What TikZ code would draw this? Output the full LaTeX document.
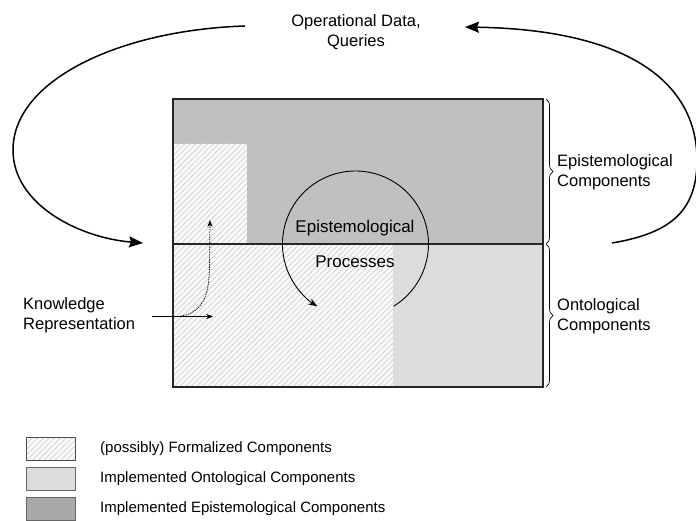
\documentclass[tikz,border=0pt]{standalone}
\usepackage{fontspec}
\setmainfont{Liberation Sans}
\usetikzlibrary{arrows.meta,decorations.pathreplacing,patterns.meta}
\definecolor{episgray}{HTML}{C0C0C0}
\definecolor{ontogray}{HTML}{DCDCDC}
\definecolor{legdark}{HTML}{A9A9A9}
\begin{document}
\begin{tikzpicture}[x=1bp,y=-1bp,
  lbl/.style={font=\fontsize{16.5bp}{20bp}\selectfont, inner sep=0pt, align=left},
  legtext/.style={font=\fontsize{15bp}{18bp}\selectfont, inner sep=0pt, anchor=west},
  hatched/.style={fill=gray!4, postaction={pattern={Lines[angle=45,distance=4bp,line width=0.9bp]}, pattern color=gray!32}},
  loop/.style={line width=1.5bp, -{Stealth[length=14bp,width=11bp,inset=2bp]}},
  procarrow/.style={line width=0.9bp, -{Stealth[length=9bp,width=6.5bp]}},
  thinarrow/.style={line width=0.7bp, -{Stealth[length=7bp,width=5bp]}},
  dotarrow/.style={line width=0.7bp, dash pattern=on 1.5bp off 1bp, -{Stealth[length=7bp,width=5bp]}},
  rbrace/.style={line width=0.7bp, decorate, decoration={brace, amplitude=7bp}},
  legbox/.style={minimum width=49bp, minimum height=23.5bp, inner sep=0pt, line width=0.9bp}
]
\useasboundingbox (0,0) rectangle (696,521);

% regions of the component box
\fill[episgray] (173,99) rectangle (543,244);
\path[hatched] (173,144) rectangle (247,244);
\path[hatched] (173,244) rectangle (393,387);
\fill[ontogray] (393,244) rectangle (543,387);

% outline and divider
\node[draw=black!85, line width=1.1bp, minimum width=370bp, minimum height=288bp, inner sep=0pt] (box) at (358,243) {};
\coordinate (midL) at (173,244);
\coordinate (midR) at (543,244);
\draw[line width=1.1bp, black!85] (midL) -- (midR);

% braces on the right
\coordinate (brTop) at (546,99);
\coordinate (brMid) at (546,244);
\coordinate (brBot) at (546,387);
\draw[rbrace] (brTop) -- (brMid);
\draw[rbrace] (brMid) -- (brBot);

% labels
\node[lbl, align=center] (ops) at (356,32) {Operational Data,\\Queries};
\node[lbl, anchor=west] (epi) at (557,172) {Epistemological\\Components};
\node[lbl, anchor=west] (onto) at (557,316) {Ontological\\Components};
\node[lbl, anchor=west] (kr) at (23,315) {Knowledge\\Representation};
\node[lbl, font=\fontsize{17bp}{20bp}\selectfont] (procA) at (355,228) {Epistemological};
\node[lbl, font=\fontsize{17bp}{20bp}\selectfont] (procB) at (355,262) {Processes};

% outer loop
\coordinate (opsL) at (245,26);
\coordinate (entryL) at (143,243);
\coordinate (exitR) at (612,243);
\coordinate (opsR) at (465,27);
\draw[loop] (opsL) .. controls (120,30) and (13,80) .. (13,150)
  .. controls (13,205) and (80,238) .. (entryL);
\draw[loop] (exitR) .. controls (672,233) and (697,210) .. (697,160)
  .. controls (697,90) and (640,30) .. (opsR);

% epistemological processes cycle
\coordinate (procStart) at (393.5,306.3);
\draw[procarrow] (procStart) arc[start angle=58.6, end angle=-238.5, radius=73];

% knowledge representation arrows
\coordinate (krStart) at (152,316.5);
\coordinate (krEnd) at (213,316.5);
\coordinate (krFork) at (178,316.5);
\coordinate (krUp) at (210,220);
\draw[thinarrow] (krStart) -- (krEnd);
\draw[dotarrow] (krFork) .. controls (203,314) and (209,295) .. (209.5,268) -- (krUp);

% legend
\node[legbox, hatched, postaction={draw=black!70, line width=0.9bp}] (leg1) at (50.5,449) {};
\node[legbox, draw=gray!80!black, fill=ontogray] (leg2) at (50.5,479) {};
\node[legbox, draw=gray!80!black, fill=legdark] (leg3) at (50.5,509) {};
\node[legtext] (legt1) at (100,449) {(possibly) Formalized Components};
\node[legtext] (legt2) at (100,479) {Implemented Ontological Components};
\node[legtext] (legt3) at (100,509) {Implemented Epistemological Components};
\end{tikzpicture}
\end{document}
